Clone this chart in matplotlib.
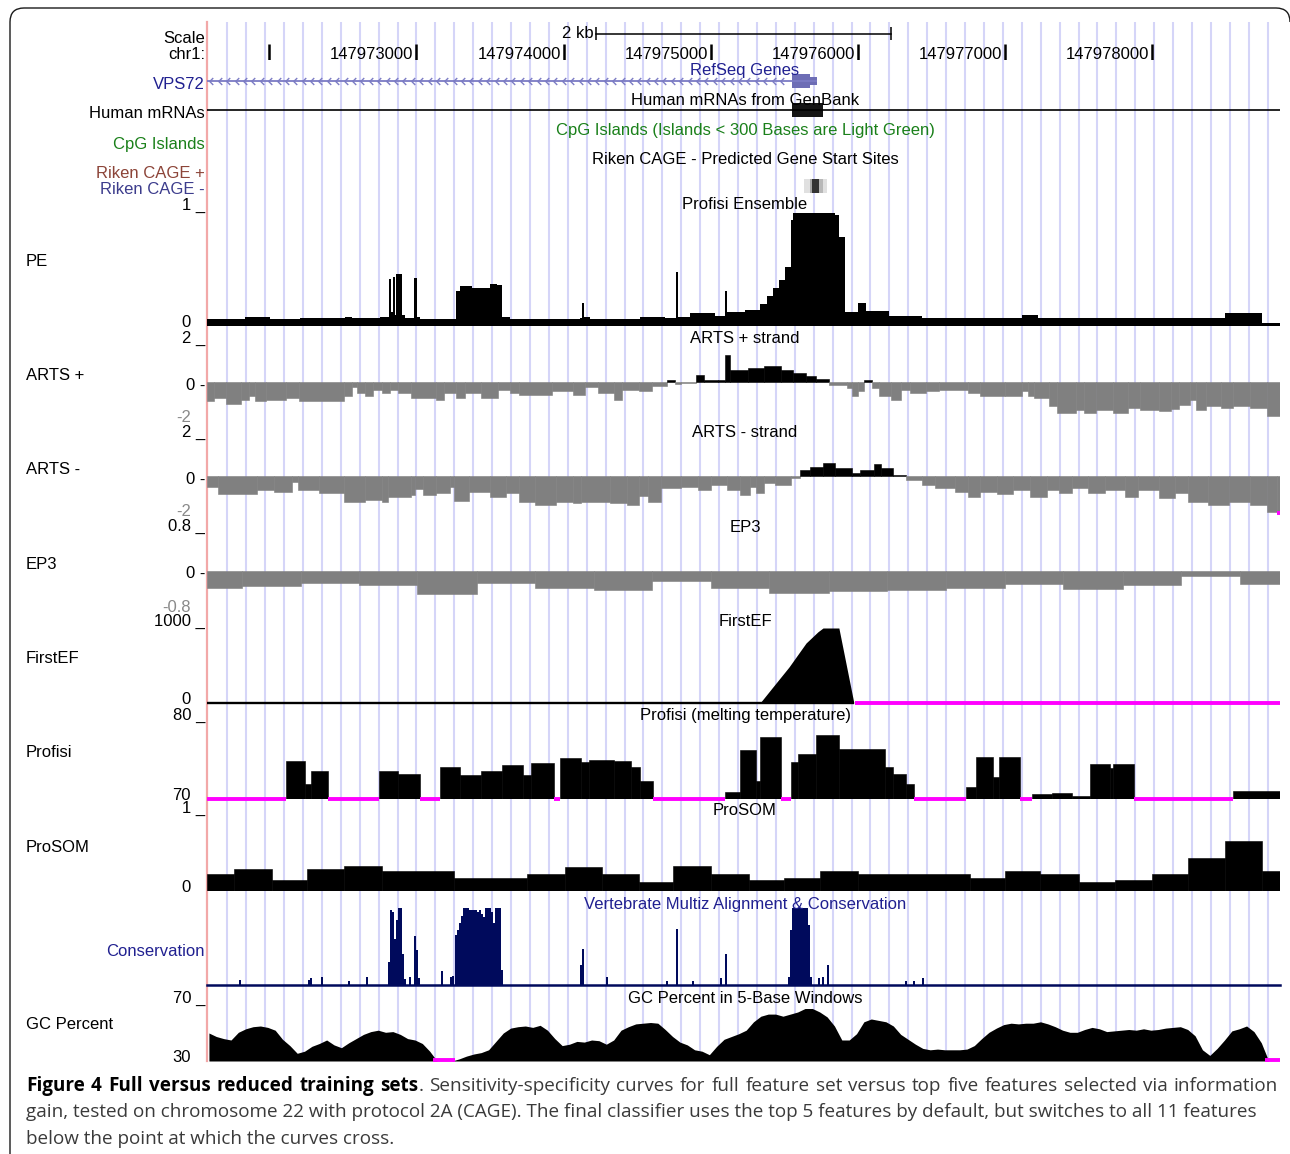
import numpy as np
import matplotlib
matplotlib.use("Agg")
import matplotlib.pyplot as plt
from matplotlib.patches import PathPatch, Rectangle
from matplotlib.path import Path

# ============================================================ data
# positions are kb after POS_OFFSET_BP on chr1
CHROM = "chr1"
POS_OFFSET_BP = 147_970_000
VIEW_KB = (1.577, 8.867)
RULER_TICKS_KB = [2, 3, 4, 5, 6, 7, 8]
RULER_LABELLED_KB = [3, 4, 5, 6, 7, 8]
SCALE_BAR_KB = 2

GENE_NAME = "VPS72"
GENE_TX_KB = (1.20, 5.721)
GENE_CDS_KB = (5.551, 5.673)
MRNA_SPAN_KB = (1.20, 9.20)
MRNA_BLOCK_KB = (5.551, 5.762)

CAGE_START_KB = [5.633, 5.675, 5.685, 5.735, 5.765]
CAGE_END_KB = [5.675, 5.685, 5.735, 5.765, 5.789]
CAGE_SCORE = [0.12, 0.35, 0.80, 0.28, 0.12]

PE_EDGES_KB = [1.577, 1.835, 2.005, 2.209, 2.514, 2.562, 2.752, 2.813, 2.827, 2.840,
               2.854, 2.861, 2.902, 2.922, 2.983, 3.004, 3.024, 3.268, 3.296, 3.343,
               3.377, 3.500, 3.547, 3.581, 3.635, 4.111, 4.124, 4.138, 4.179, 4.519,
               4.689, 4.764, 4.777, 4.858, 5.028, 5.096, 5.110, 5.232, 5.334, 5.382,
               5.422, 5.463, 5.504, 5.544, 5.558, 5.843, 5.870, 5.911, 5.999, 6.054,
               6.210, 6.434, 7.113, 7.222, 8.492, 8.744, 8.867]
PE_VALUES = [0.06, 0.08, 0.06, 0.07, 0.08, 0.07, 0.08, 0.41, 0.12, 0.43,
             0.10, 0.46, 0.10, 0.07, 0.42, 0.08, 0.06, 0.31, 0.35, 0.35,
             0.33, 0.37, 0.36, 0.08, 0.06, 0.07, 0.20, 0.08, 0.06, 0.08,
             0.07, 0.47, 0.08, 0.11, 0.09, 0.31, 0.12, 0.14, 0.19, 0.26,
             0.33, 0.40, 0.52, 0.93, 0.99, 0.97, 0.78, 0.12, 0.20, 0.13,
             0.09, 0.07, 0.10, 0.07, 0.11, 0.03]

ARTS_PLUS_EDGES_KB = [1.577, 1.625, 1.706, 1.808, 1.862, 1.903, 1.978, 2.114, 2.202, 2.508,
                      2.562, 2.596, 2.650, 2.705, 2.766, 2.820, 2.875, 2.963, 3.133, 3.187,
                      3.269, 3.330, 3.439, 3.554, 3.636, 3.697, 3.921, 4.064, 4.145, 4.233,
                      4.342, 4.396, 4.512, 4.600, 4.702, 4.756, 4.797, 4.899, 4.953, 5.048,
                      5.096, 5.130, 5.252, 5.361, 5.476, 5.558, 5.646, 5.714, 5.803, 5.925,
                      5.959, 6.000, 6.040, 6.095, 6.142, 6.224, 6.292, 6.353, 6.462, 6.550,
                      6.747, 6.829, 6.998, 7.114, 7.155, 7.195, 7.297, 7.351, 7.481, 7.535,
                      7.617, 7.732, 7.834, 7.916, 8.045, 8.126, 8.180, 8.255, 8.296, 8.364,
                      8.466, 8.548, 8.663, 8.779, 8.867]
ARTS_PLUS_VALUES = [-1.05, -0.87, -1.17, -0.95, -0.77, -1.05, -0.95, -0.87, -1.0, -0.77,
                    -0.27, -0.6, -0.77, -0.41, -0.6, -0.41, -0.6, -0.87, -0.95, -0.6,
                    -0.87, -0.6, -0.87, -0.41, -0.6, -0.68, -0.5, -0.68, -0.27, -0.6,
                    -0.95, -0.45, -0.5, -0.24, 0.12, -0.1, -0.03, 0.4, 0.1, 0.1,
                    1.47, 0.67, 0.77, 0.88, 0.67, 0.5, 0.3, 0.18, -0.15, -0.35,
                    -0.77, -0.5, 0.12, -0.35, -0.77, -0.95, -0.45, -0.6, -0.5, -0.41,
                    -0.6, -0.74, -0.77, -0.5, -0.77, -0.87, -1.32, -1.68, -1.5, -1.68,
                    -1.5, -1.68, -1.41, -1.5, -1.59, -1.46, -1.23, -0.95, -1.53, -1.32,
                    -1.41, -1.28, -1.41, -1.82]

ARTS_MINUS_EDGES_KB = [1.577, 1.652, 1.917, 2.032, 2.154, 2.195, 2.338, 2.508, 2.650, 2.766,
                       2.807, 2.963, 2.990, 3.044, 3.133, 3.228, 3.255, 3.357, 3.500, 3.608,
                       3.697, 3.805, 3.948, 4.064, 4.118, 4.315, 4.430, 4.512, 4.573, 4.661,
                       4.797, 4.913, 5.001, 5.110, 5.198, 5.266, 5.307, 5.361, 5.436, 5.544,
                       5.606, 5.674, 5.762, 5.843, 5.959, 6.014, 6.108, 6.156, 6.237, 6.326,
                       6.434, 6.523, 6.658, 6.747, 6.828, 6.944, 7.053, 7.168, 7.284, 7.365,
                       7.453, 7.562, 7.677, 7.813, 7.902, 8.044, 8.153, 8.241, 8.377, 8.520,
                       8.663, 8.778, 8.846, 8.867]
ARTS_MINUS_VALUES = [-0.57, -0.99, -0.75, -0.84, -0.3, -0.75, -0.93, -1.38, -1.29, -1.43,
                     -1.11, -1.02, -0.72, -1.02, -0.93, -0.57, -1.34, -0.84, -1.11, -0.9,
                     -1.38, -1.56, -1.38, -1.47, -1.38, -1.47, -1.56, -1.1, -1.38, -0.66,
                     -0.57, -0.75, -0.48, -0.75, -1.02, -0.57, -0.93, -0.36, -0.48, -0.13,
                     0.32, 0.5, 0.68, 0.41, 0.14, 0.32, 0.65, 0.41, 0.05, -0.22,
                     -0.48, -0.66, -0.84, -1.11, -0.84, -0.97, -0.75, -1.11, -0.75, -0.93,
                     -0.66, -0.93, -0.75, -1.11, -0.75, -1.2, -0.93, -1.38, -1.56, -1.43,
                     -1.56, -1.92, -2.3]

EP3_EDGES_KB = [1.577, 1.815, 2.216, 2.610, 3.003, 3.411, 3.805, 4.206, 4.600, 5.001,
                5.395, 5.803, 6.197, 6.597, 6.998, 7.392, 7.800, 8.194, 8.595, 8.867]
EP3_VALUES = [-0.35, -0.32, -0.25, -0.29, -0.48, -0.25, -0.36, -0.39, -0.2, -0.35,
              -0.46, -0.42, -0.39, -0.35, -0.27, -0.37, -0.3, -0.1, -0.28]

FIRSTEF_POS_KB = [1.577, 5.334, 5.422, 5.531, 5.647, 5.728, 5.762, 5.870, 5.972, 5.980, 8.867]
FIRSTEF_VALUES = [0, 0, 215, 480, 800, 950, 1000, 1000, 0, -100, -100]

PROFISI_EDGES_KB = [1.577, 2.114, 2.243, 2.284, 2.399, 2.746, 2.875, 3.024, 3.160, 3.296,
                    3.439, 3.581, 3.724, 3.778, 3.934, 3.975, 4.118, 4.172, 4.342, 4.457,
                    4.519, 4.607, 5.096, 5.198, 5.307, 5.334, 5.476, 5.544, 5.592, 5.714,
                    5.870, 6.183, 6.237, 6.326, 6.380, 6.733, 6.801, 6.917, 6.957, 7.100,
                    7.181, 7.317, 7.453, 7.576, 7.712, 7.732, 7.875, 8.547, 8.867]
PROFISI_VALUES = [65, 75.0, 72.0, 73.7, 65, 73.7, 73.3, 65, 74.2, 73.1,
                  73.7, 74.4, 73.1, 74.7, 65, 75.3, 74.8, 75.1, 74.9, 74.2,
                  72.4, 65, 70.9, 76.3, 72.4, 78.0, 65, 74.8, 75.9, 78.3,
                  76.5, 74.2, 73.3, 72.0, 65, 71.6, 75.5, 72.9, 75.4, 65,
                  70.6, 70.8, 70.4, 74.5, 74.0, 74.5, 65, 71.1]

PROSOM_EDGES_KB = [1.577, 1.760, 2.019, 2.256, 2.508, 2.766, 3.255, 3.751, 4.009, 4.260,
                   4.512, 4.743, 5.001, 5.259, 5.497, 5.741, 6.000, 6.760, 6.998, 7.236,
                   7.501, 7.745, 7.997, 8.241, 8.493, 8.744, 8.867]
PROSOM_VALUES = [0.22, 0.29, 0.15, 0.29, 0.335, 0.26, 0.17, 0.23, 0.32, 0.23,
                 0.12, 0.335, 0.22, 0.15, 0.17, 0.26, 0.22, 0.17, 0.26, 0.23,
                 0.12, 0.14, 0.23, 0.44, 0.66, 0.26]

CONS_POS_KB = [1.801, 2.270, 2.284, 2.358, 2.542, 2.664,
               2.813, 2.827, 2.840, 2.854, 2.868, 2.881, 2.895, 2.908, 2.922,
               2.956, 2.990, 3.004, 3.017, 3.173, 3.235, 3.248,
               3.268, 3.282, 3.296, 3.309, 3.323, 3.337, 3.350, 3.364, 3.378, 3.391,
               3.405, 3.418, 3.432, 3.445, 3.459, 3.473, 3.486, 3.500, 3.513, 3.527,
               3.541, 3.554, 3.568, 3.581,
               4.118, 4.131, 4.294, 4.702, 4.770, 4.878, 5.069, 5.103,
               5.531, 5.544, 5.558, 5.572, 5.585, 5.599, 5.612, 5.626, 5.640, 5.653,
               5.667, 5.680, 5.734, 5.762, 5.796, 6.325, 6.380, 6.441]
CONS_VALUES = [0.06, 0.06, 0.09, 0.10, 0.05, 0.10,
               0.30, 0.97, 0.95, 0.60, 0.85, 1.00, 1.00, 0.40, 0.08,
               0.10, 0.64, 0.45, 0.09, 0.18, 0.10, 0.12,
               0.65, 0.72, 0.80, 0.90, 1.00, 1.00, 1.00, 0.97, 0.97, 0.97,
               0.97, 0.95, 0.97, 0.92, 0.88, 1.00, 1.00, 1.00, 0.95, 0.80,
               1.00, 1.00, 1.00, 0.20,
               0.26, 0.47, 0.10, 0.05, 0.73, 0.05, 0.09, 0.40,
               0.10, 0.71, 1.00, 1.00, 1.00, 1.00, 1.00, 1.00, 1.00, 1.00,
               0.78, 0.10, 0.09, 0.10, 0.26, 0.05, 0.05, 0.09]

GC_FIRST_KB = 1.59      # GC percent sampled every GC_STEP_KB
GC_STEP_KB = 0.05
GC_VALUES = [50, 47.5, 46, 45, 50.5, 53, 54.5, 55, 54, 52,
             45.5, 41, 35.5, 37, 40.5, 42.5, 45, 41.5, 39.5, 43,
             46, 49, 51, 52, 50.5, 51, 49, 46, 45, 42.5,
             37, 28, 28, 28, 31.5, 33.5, 35, 36, 38, 44,
             50, 53.5, 54.5, 55, 54, 55.5, 52, 46, 41, 42,
             44, 43.5, 45, 44.5, 42, 45, 52, 54.5, 56.5, 57,
             57.5, 57, 52.5, 47.5, 43.5, 41.5, 38, 37, 34.5, 40.5,
             45.5, 47.5, 49.5, 52, 58, 62, 63.5, 63.5, 62, 63.5,
             65, 67.5, 67.5, 65, 61.5, 55, 45, 45, 49.5, 58,
             60, 59, 58, 55, 49, 45.5, 42, 39, 38, 38.5,
             38, 38, 38, 38.5, 41, 46, 50.5, 53.5, 56, 57,
             56.5, 57, 57, 58, 56.5, 54.5, 52, 50.5, 50.5, 52.5,
             54, 53, 51, 51.5, 52, 52.5, 52, 53, 52, 52.5,
             53.5, 54, 54.5, 52.5, 48, 38, 34, 39, 45, 51.5,
             53, 55, 51, 43, 28, 28]

CAPTION_BOLD = "Figure 4 Full versus reduced training sets"
CAPTION_LINES = [
    ". Sensitivity-specificity curves for full feature set versus top five features selected via information",
    "gain, tested on chromosome 22 with protocol 2A (CAGE). The final classifier uses the top 5 features by default, but switches to all 11 features",
    "below the point at which the curves cross.",
]

# ============================================================ style / layout
W, H, DPI = 1290, 1154, 100
X0, X1 = 207, 1280
BROWSER_FONT = ["Liberation Sans", "DejaVu Sans"]
CAPTION_FONT = ["Open Sans", "DejaVu Sans"]
GUIDE_COLOR = "#d5d5f8"
GUIDE_STEP_KB = 0.12853
EDGE_RED = "#f2a8a8"
GRAY = "#808080"
MAGENTA = "#ff00ff"
NAVY = "#202090"
CONS_NAVY = "#000a5c"
GREEN = "#1a801a"
GENE_LINE = "#7b7bc4"
GENE_BOX = "#6d6db5"

fig = plt.figure(figsize=(W / DPI, H / DPI), dpi=DPI, facecolor="white")


def px_axes(x0, y0, x1, y1, z):
    ax = fig.add_axes([x0 / W, 1 - y1 / H, (x1 - x0) / W, (y1 - y0) / H])
    ax.set_axis_off()
    ax.set_zorder(z)
    return ax


def kb_axes(y0, y1, ylim, z=2):
    ax = px_axes(X0, y0, X1, y1, z)
    ax.set_xlim(*VIEW_KB)
    ax.set_ylim(*ylim)
    return ax


def kb2px(kb):
    return X0 + (kb - VIEW_KB[0]) / (VIEW_KB[1] - VIEW_KB[0]) * (X1 - X0)


ov = px_axes(0, 0, W, H, 10)
ov.set_xlim(0, W)
ov.set_ylim(H, 0)


def label(x, y, s, ha="right", color="black", size=12):
    ov.text(x, y, s, ha=ha, va="baseline", color=color, fontsize=size,
            family=BROWSER_FONT)


# frame: left side, top side, rounded corners (right side is off the picture)
frame = Path([(10, 1170), (10, 22), (10, 8), (24, 8), (1276, 8), (1290, 8), (1290, 22)],
             [Path.MOVETO, Path.LINETO, Path.CURVE3, Path.CURVE3, Path.LINETO,
              Path.CURVE3, Path.CURVE3])
ov.add_patch(PathPatch(frame, fill=False, ec="#1a1a1a", lw=1.0))

# guide lines + left red edge
bg = kb_axes(22, 1061, (0, 1), z=0)
guides = 3.0 + GUIDE_STEP_KB * np.arange(-10, 46)
bg.vlines(guides, 0, 1, colors=GUIDE_COLOR, lw=1.5)
bg.plot([VIEW_KB[0]] * 2, [0, 1], color=EDGE_RED, lw=1.6, clip_on=False)

# ruler
rul = kb_axes(44, 60, (0, 1))
rul.vlines(RULER_TICKS_KB, 0, 1, colors="black", lw=1.8)
for t in RULER_LABELLED_KB:
    label(kb2px(t) - 3, 59, f"{POS_OFFSET_BP + int(round(t * 1000))}")
sb = kb_axes(27, 40, (0, 1))
cen = sum(VIEW_KB) / 2
sa, sbb = cen - SCALE_BAR_KB / 2, cen + SCALE_BAR_KB / 2
sb.plot([sa, sbb], [0.5, 0.5], color="black", lw=1.1)
sb.vlines([sa, sbb], 0, 1, colors="black", lw=1.1)
label(kb2px(sa) - 3, 38, f"{SCALE_BAR_KB:g} kb")
label(205, 43, "Scale")
label(205, 59, CHROM + ":")

# gene
ga = kb_axes(74, 88, (0, 1))
ga.plot(GENE_TX_KB, [0.5, 0.5], color=GENE_LINE, lw=1.3, solid_capstyle="butt")
CHEVRON = Path([(0.5, 1.0), (-0.5, 0.0), (0.5, -1.0)],
               [Path.MOVETO, Path.LINETO, Path.LINETO])
chev_x = np.arange(VIEW_KB[0] + 0.03, GENE_CDS_KB[0] - 0.02, 0.057)
ga.plot(chev_x, np.full_like(chev_x, 0.5), ls="none", marker=CHEVRON, ms=5,
        mfc="none", mec=GENE_LINE, mew=1.0)
ga.add_patch(Rectangle((GENE_CDS_KB[0], 0), GENE_CDS_KB[1] - GENE_CDS_KB[0], 1,
                       color=GENE_BOX, lw=0))
ga.add_patch(Rectangle((GENE_CDS_KB[1], 0.22), GENE_TX_KB[1] - GENE_CDS_KB[1], 0.56,
                       color=GENE_BOX, lw=0))
label(205, 89, GENE_NAME, color=NAVY)

# mRNA
ma = kb_axes(103, 117, (0, 1))
ma.plot(MRNA_SPAN_KB, [0.5, 0.5], color="black", lw=1.2)
ma.add_patch(Rectangle((MRNA_BLOCK_KB[0], 0), MRNA_BLOCK_KB[1] - MRNA_BLOCK_KB[0], 1,
                       color="#151515", lw=0))
label(205, 118, "Human mRNAs")

label(205, 149, "CpG Islands", color=GREEN)

# CAGE
cga = kb_axes(179, 193, (0, 1))
for s, e, sc in zip(CAGE_START_KB, CAGE_END_KB, CAGE_SCORE):
    g = 1 - sc
    cga.add_patch(Rectangle((s, 0), e - s, 1, color=(g, g, g), lw=0))
label(205, 178, "Riken CAGE +", color="#8c4438")
label(205, 194, "Riken CAGE -", color="#3c3c8c")

# centre titles
CX = 745
for s, y, c in [("RefSeq Genes", 75, NAVY),
                ("Human mRNAs from GenBank", 105, "black"),
                ("CpG Islands (Islands < 300 Bases are Light Green)", 135, GREEN),
                ("Riken CAGE - Predicted Gene Start Sites", 164, "black"),
                ("Profisi Ensemble", 209, "black"),
                ("ARTS + strand", 343, "black"),
                ("ARTS - strand", 437, "black"),
                ("EP3", 532, "black"),
                ("FirstEF", 626, "black"),
                ("Profisi (melting temperature)", 720, "black"),
                ("ProSOM", 815, "black"),
                ("Vertebrate Multiz Alignment & Conservation", 909, NAVY),
                ("GC Percent in 5-Base Windows", 1003, "black")]:
    label(CX, y, s, ha="center", color=c)


def step_bars(ax, edges, vals, pos_color, neg_color, base=0.0):
    e = np.asarray(edges, float)
    v = np.asarray(vals, float)
    cols = [pos_color if x >= base else neg_color for x in v]
    ax.bar(e[:-1], v - base, width=np.diff(e), bottom=base, align="edge",
           color=cols, edgecolor=cols, linewidth=0.4)


def below_marks(ax, edges, vals, vmin):
    e = np.asarray(edges, float)
    for a, b, x in zip(e[:-1], e[1:], vals):
        if x < vmin:
            ax.plot([a, b], [vmin, vmin], color=MAGENTA, lw=2.8,
                    solid_capstyle="butt", clip_on=False, zorder=5)


def side_labels(name, ytop, ybot, vmin, vmax, zero_px=None, name_y=None):
    label(205, ytop - 2, f"{vmax:g} _")
    if zero_px is not None:
        label(205, zero_px + 7.5, "0 -")
        label(191, ybot + 2.5, f"{vmin:g}", color="#8a8a8a")
    else:
        label(191, ybot + 1, f"{vmin:g}")
    label(26, name_y, name, ha="left")


# PE
ax = kb_axes(212, 326, (0, 1))
ax.fill_between(PE_EDGES_KB, 0, PE_VALUES + [PE_VALUES[-1]], step="post",
                color="black", lw=0)
side_labels("PE", 212, 326, 0, 1, name_y=266)

# ARTS +
ax = kb_axes(345, 419, (-2, 2))
step_bars(ax, ARTS_PLUS_EDGES_KB, ARTS_PLUS_VALUES, "black", GRAY)
below_marks(ax, ARTS_PLUS_EDGES_KB, ARTS_PLUS_VALUES, -2)
side_labels("ARTS +", 345, 419, -2, 2, zero_px=382, name_y=380)

# ARTS -
ax = kb_axes(439, 513, (-2, 2))
step_bars(ax, ARTS_MINUS_EDGES_KB, ARTS_MINUS_VALUES, "black", GRAY)
below_marks(ax, ARTS_MINUS_EDGES_KB, ARTS_MINUS_VALUES, -2)
side_labels("ARTS -", 439, 513, -2, 2, zero_px=476, name_y=474)

# EP3
ax = kb_axes(533, 609, (-0.8, 0.8))
step_bars(ax, EP3_EDGES_KB, EP3_VALUES, "black", GRAY)
side_labels("EP3", 533, 609, -0.8, 0.8, zero_px=571, name_y=569)

# FirstEF
ax = kb_axes(628, 703, (0, 1000))
fe_x = np.asarray(FIRSTEF_POS_KB)
fe_v = np.asarray(FIRSTEF_VALUES, float)
ax.fill_between(fe_x, 0, np.maximum(fe_v, 0), color="black", lw=0)
ok = fe_v >= 0
ax.plot([fe_x[ok][0], fe_x[ok][-1]], [0, 0], color="black", lw=1.7,
        solid_capstyle="butt", clip_on=False)
for a, b, va, vb in zip(fe_x[:-1], fe_x[1:], fe_v[:-1], fe_v[1:]):
    if va < 0 and vb < 0:
        ax.plot([a, b], [0, 0], color=MAGENTA, lw=2.8, solid_capstyle="butt",
                clip_on=False, zorder=5)
side_labels("FirstEF", 628, 703, 0, 1000, name_y=663)

# Profisi
ax = kb_axes(722, 799, (70, 80))
step_bars(ax, PROFISI_EDGES_KB, PROFISI_VALUES, "black", "black", base=70)
below_marks(ax, PROFISI_EDGES_KB, PROFISI_VALUES, 70)
side_labels("Profisi", 722, 799, 70, 80, name_y=757)

# ProSOM
ax = kb_axes(815, 891, (0, 1))
step_bars(ax, PROSOM_EDGES_KB, PROSOM_VALUES, "black", "black")
side_labels("ProSOM", 815, 891, 0, 1, name_y=852)

# Conservation
ax = kb_axes(908, 985, (0, 1))
ax.bar(CONS_POS_KB, CONS_VALUES, width=0.0136, color=CONS_NAVY, lw=0)
ax.plot(VIEW_KB, [0, 0], color=CONS_NAVY, lw=1.8, clip_on=False)
label(205, 956, "Conservation", color=NAVY)

# GC percent
ax = kb_axes(1005, 1061, (30, 70))
gc_v = np.asarray(GC_VALUES, float)
gc_x = GC_FIRST_KB + GC_STEP_KB * np.arange(len(gc_v))
ax.fill_between(gc_x, 30, np.maximum(gc_v, 30), color="black", lw=0)
for x, v in zip(gc_x, gc_v):
    if v < 30:
        ax.plot([x - GC_STEP_KB / 2, min(x + GC_STEP_KB / 2, VIEW_KB[1])], [30.8, 30.8],
                color=MAGENTA, lw=2.8, solid_capstyle="butt", clip_on=False, zorder=5)
side_labels("GC Percent", 1005, 1061, 30, 70, name_y=1029)

# ============================================================ caption
renderer = fig.canvas.get_renderer()
CAP_COLOR = "#3a3a3a"


def measure(s, size, weight):
    t = ov.text(0, 0, s, fontsize=size, fontweight=weight, family=CAPTION_FONT)
    w = t.get_window_extent(renderer).width
    t.remove()
    return w


base = 13.0
w1 = measure(CAPTION_BOLD, base, "bold") + measure(CAPTION_LINES[0], base, "normal")
w2 = measure(CAPTION_LINES[1], base, "normal")
csize = min(base * (1278 - 26) / w1, base * (1250 - 26) / w2)

# first line: justified word by word (bold title + regular text)
rest = CAPTION_LINES[0].split()
units = [[(wd, "bold")] for wd in CAPTION_BOLD.split()]
units[-1].append((rest[0], "normal"))
units += [[(wd, "normal")] for wd in rest[1:]]
widths = [[measure(s, csize, wt) for s, wt in u] for u in units]
total = sum(sum(w) for w in widths)
gap = (1278 - 26 - total) / (len(units) - 1)
x = 26.0
for u, ws in zip(units, widths):
    for (s, wt), w in zip(u, ws):
        ov.text(x, 1091, s, fontsize=csize, fontweight=wt, family=CAPTION_FONT,
                color="black" if wt == "bold" else CAP_COLOR, va="baseline")
        x += w
    x += gap

ov.text(26, 1117, CAPTION_LINES[1], fontsize=csize, family=CAPTION_FONT,
        color=CAP_COLOR, va="baseline")
ov.text(26, 1144, CAPTION_LINES[2], fontsize=csize, family=CAPTION_FONT,
        color=CAP_COLOR, va="baseline")

fig.savefig("out.png", dpi=DPI, facecolor="white")
